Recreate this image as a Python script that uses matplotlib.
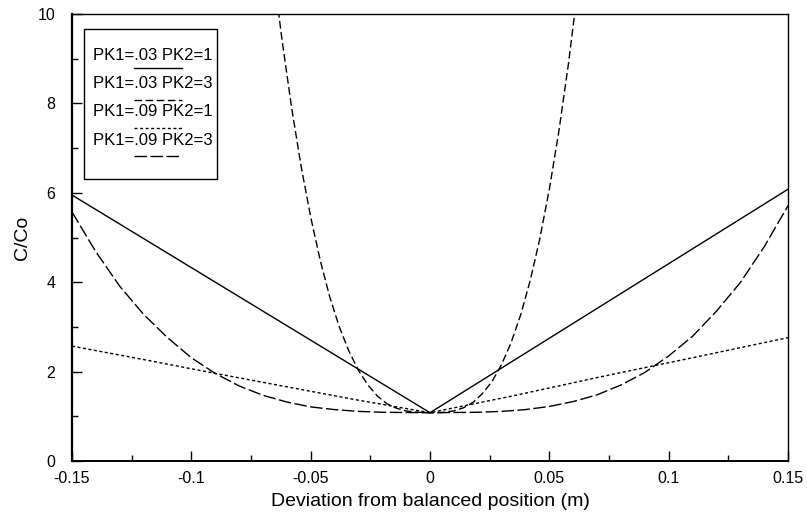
import matplotlib
matplotlib.use("Agg")
import matplotlib.pyplot as plt
from matplotlib.patches import Rectangle
from matplotlib.lines import Line2D
from matplotlib.ticker import MultipleLocator

plt.rcParams['font.family'] = ['Liberation Sans', 'DejaVu Sans']

# Series data
labels = ["PK1=.03 PK2=1", "PK1=.03 PK2=3", "PK1=.09 PK2=1", "PK1=.09 PK2=3"]

# PK1=.03 PK2=1 (solid, straight V)
x_a = [-0.15, 0.0, 0.15]
y_a = [5.95, 1.08, 6.08]

# PK1=.03 PK2=3 (dashed, steep)
x_b = [-0.065, -0.062, -0.058, -0.054, -0.050, -0.046, -0.042, -0.038, -0.034, -0.030,
       -0.026, -0.022, -0.018, -0.014, -0.010, -0.005, 0.0,
       0.005, 0.010, 0.014, 0.018, 0.022, 0.026, 0.030, 0.034, 0.038, 0.042,
       0.046, 0.050, 0.054, 0.058, 0.062]
y_b = [10.69, 9.42, 7.91, 6.59, 5.46, 4.49, 3.67, 3.00, 2.46, 2.03,
       1.70, 1.45, 1.28, 1.18, 1.12, 1.09, 1.08,
       1.085, 1.12, 1.19, 1.31, 1.51, 1.78, 2.16, 2.65, 3.27, 4.04,
       4.97, 6.08, 7.38, 8.88, 10.61]

# PK1=.09 PK2=1 (dotted, near-linear V)
x_c = [-0.15, -0.12, -0.09, -0.06, -0.03, 0.0, 0.035, 0.0712, 0.11, 0.15]
y_c = [2.57, 2.27, 1.96, 1.66, 1.36, 1.08, 1.46, 1.88, 2.31, 2.76]

# PK1=.09 PK2=3 (long dash, flat-bottomed)
x_d = [-0.15, -0.14, -0.13, -0.12, -0.11, -0.10, -0.09, -0.08, -0.07, -0.06, -0.05,
       -0.04, -0.03, -0.02, 0.0, 0.02, 0.03, 0.04, 0.05, 0.06, 0.07, 0.08, 0.09,
       0.10, 0.11, 0.12, 0.13, 0.14, 0.15]
y_d = [5.57, 4.68, 3.91, 3.28, 2.76, 2.31, 1.96, 1.68, 1.47, 1.32, 1.21,
       1.15, 1.11, 1.09, 1.08, 1.09, 1.11, 1.15, 1.22, 1.33, 1.48, 1.70, 1.98,
       2.35, 2.79, 3.35, 3.99, 4.79, 5.71]

x_ticks = [-0.15, -0.1, -0.05, 0, 0.05, 0.1, 0.15]
x_ticklabels = ["-0.15", "-0.1", "-0.05", "0", "0.05", "0.1", "0.15"]
y_ticks = [0, 2, 4, 6, 8, 10]

dash_styles = [None, (5.5, 2.5), (2.2, 1.8), (9, 2.5)]

fig = plt.figure(figsize=(8.07, 5.22), dpi=100)
ax = fig.add_axes([72/807, 1-461/522, 716/807, 447/522])

series = [(x_a, y_a), (x_b, y_b), (x_c, y_c), (x_d, y_d)]
for (xs, ys), ds in zip(series, dash_styles):
    if ds:
        ax.plot(xs, ys, color='black', lw=1.0, dashes=ds)
    else:
        ax.plot(xs, ys, color='black', lw=1.0, linestyle='-')

ax.set_xlim(-0.15, 0.15)
ax.set_ylim(0, 10)
ax.set_xticks(x_ticks)
ax.set_xticklabels(x_ticklabels)
ax.set_yticks(y_ticks)
ax.xaxis.set_minor_locator(MultipleLocator(0.025))
ax.yaxis.set_minor_locator(MultipleLocator(1))
ax.tick_params(which='both', direction='in', top=False, right=False, labelsize=11.5, width=1.0)
ax.tick_params(which='major', length=7)
ax.tick_params(which='minor', length=4)
ax.tick_params(axis='x', pad=7)
ax.tick_params(axis='y', pad=12)
for s in ax.spines.values():
    s.set_linewidth(1.0)
ax.spines['left'].set_linewidth(1.6)
ax.spines['bottom'].set_linewidth(1.4)

ax.set_xlabel("Deviation from balanced position (m)", fontsize=14, labelpad=5)
ax.set_ylabel("C/Co", fontsize=14, labelpad=5)

# Custom legend: label text with its line sample beneath
ax.add_patch(Rectangle((0.0168, 0.631), 0.1857, 0.335, transform=ax.transAxes,
                       fill=False, edgecolor='black', lw=1.0, zorder=5))
text_y = [0.908, 0.845, 0.781, 0.718]
line_y = [0.879, 0.808, 0.745, 0.682]
for lab, ty, ly, ds in zip(labels, text_y, line_y, dash_styles):
    ax.text(0.029, ty, lab, transform=ax.transAxes, fontsize=12, va='center', ha='left', zorder=6)
    kw = dict(color='black', lw=1.0, transform=ax.transAxes, zorder=6)
    if ds:
        ln = Line2D([0.086, 0.154], [ly, ly], dashes=ds, **kw)
    else:
        ln = Line2D([0.086, 0.154], [ly, ly], linestyle='-', **kw)
    ax.add_line(ln)

fig.savefig("out.png", dpi=100)
